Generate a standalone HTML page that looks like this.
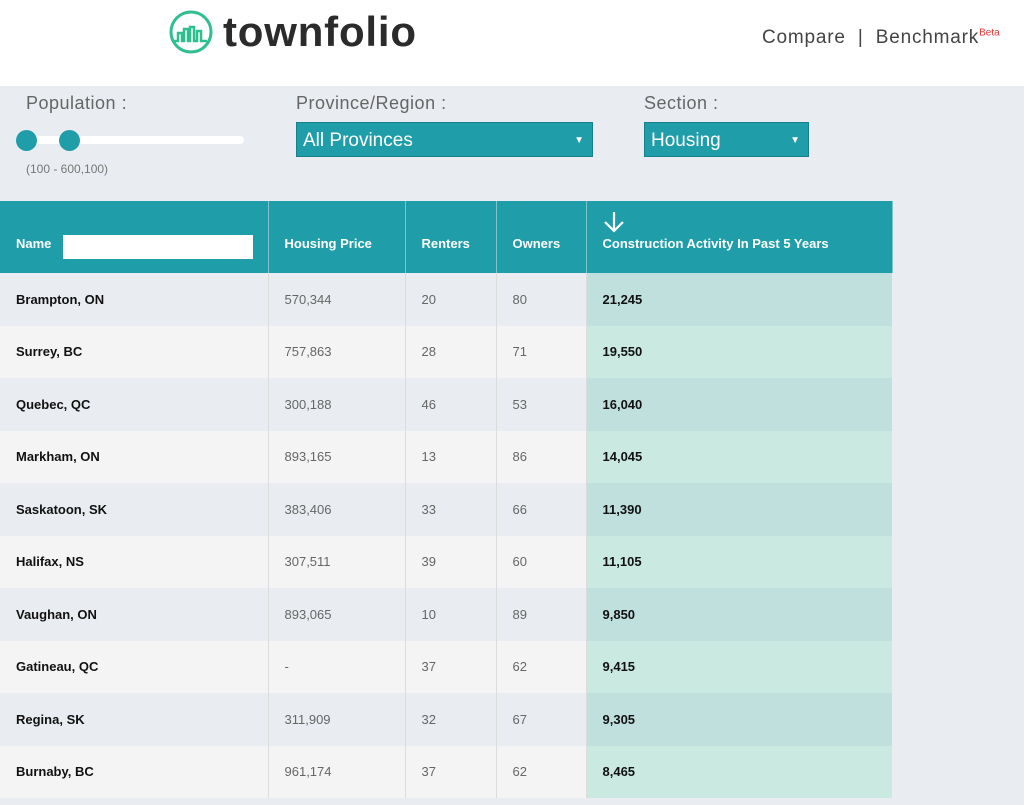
<!DOCTYPE html>
<html><head><style>
body{margin:0;width:1024px;height:805px;background:#e9ecf0;font-family:"Liberation Sans",sans-serif;position:relative;overflow:hidden}
.top{position:absolute;left:0;top:0;width:1024px;height:86px;background:#fff}
.logo{position:absolute;left:223px;top:8px;font-size:42px;color:#2b2b2b;letter-spacing:0.8px;font-weight:bold;-webkit-text-stroke:0}
.nav{position:absolute;left:762px;top:27px;font-size:19px;color:#444;letter-spacing:0.8px}
.nav sup{color:#e33;font-size:10px;letter-spacing:0}
.lbl{position:absolute;top:93px;font-size:18px;color:#666;letter-spacing:0.5px}
.sel{position:absolute;top:122px;height:35px;background:#1f9eaa;color:#fff;font-size:19px;line-height:35px;padding-left:6px;box-sizing:border-box;border:1px solid #17808a}
.sel span{position:absolute;right:8px;font-size:10px}
table{position:absolute;left:0;top:201px;border-collapse:collapse;width:892px;table-layout:fixed}
th{background:#1f9eaa;color:#fff;font-size:13px;text-align:left;height:72px;padding:12px 0 0 16px;border-right:1px solid #7cc5cc;font-weight:bold;box-sizing:border-box}
td{height:52.5px;padding:0 0 0 16px;font-size:13px;color:#666;border-right:1px solid #dcdcdc;box-sizing:border-box}
td:first-child{font-weight:bold;color:#111}
td:last-child{font-weight:bold;color:#111;border-right:none}
tr.a td{background:#e9ecf0} tr.b td{background:#f4f4f4}
tr.a td:last-child{background:#c0e0de} tr.b td:last-child{background:#c9e9e1}
</style></head><body>
<div class="top">
<svg style="position:absolute;left:168px;top:9px" width="46" height="46" viewBox="0 0 46 46"><circle cx="23" cy="23" r="20" fill="none" stroke="#2fbf8f" stroke-width="3"/><path d="M6 32 h4 v-8 h4 v8 h2 v-12 h4 v12 h2 v-14 h4 v14 h3 v-10 h4 v10 h6" fill="none" stroke="#2fbf8f" stroke-width="2.5"/></svg>
<div class="logo">townfolio</div>
<div class="nav">Compare &nbsp;|&nbsp; Benchmark<sup>Beta</sup></div>
</div>
<div class="lbl" style="left:26px">Population :</div>
<div style="position:absolute;left:16px;top:136px;width:228px;height:8px;background:#fff;border-radius:4px"></div>
<div style="position:absolute;left:16px;top:130px;width:21px;height:21px;border-radius:50%;background:#1f9eaa"></div>
<div style="position:absolute;left:59px;top:130px;width:21px;height:21px;border-radius:50%;background:#1f9eaa"></div>
<div style="position:absolute;left:26px;top:162px;font-size:12px;color:#777">(100 - 600,100)</div>
<div class="lbl" style="left:296px">Province/Region :</div>
<div class="sel" style="left:296px;width:297px">All Provinces<span>▼</span></div>
<div class="lbl" style="left:644px">Section :</div>
<div class="sel" style="left:644px;width:165px">Housing<span>▼</span></div>
<div style="position:absolute;left:63px;top:235px;width:190px;height:24px;background:#fff;z-index:2"></div>
<table>
<colgroup><col style="width:268px"><col style="width:137px"><col style="width:91px"><col style="width:90px"><col style="width:306px"></colgroup>
<tr><th>Name</th><th>Housing Price</th><th>Renters</th><th>Owners</th><th style="position:relative">Construction Activity In Past 5 Years<svg style="position:absolute;left:16px;top:10px" width="22" height="22" viewBox="0 0 22 22"><path d="M11 1 V20 M2 11 L11 20 L20 11" fill="none" stroke="#fff" stroke-width="2.2"/></svg></th></tr>
<tr class="a"><td>Brampton, ON</td><td>570,344</td><td>20</td><td>80</td><td>21,245</td></tr>
<tr class="b"><td>Surrey, BC</td><td>757,863</td><td>28</td><td>71</td><td>19,550</td></tr>
<tr class="a"><td>Quebec, QC</td><td>300,188</td><td>46</td><td>53</td><td>16,040</td></tr>
<tr class="b"><td>Markham, ON</td><td>893,165</td><td>13</td><td>86</td><td>14,045</td></tr>
<tr class="a"><td>Saskatoon, SK</td><td>383,406</td><td>33</td><td>66</td><td>11,390</td></tr>
<tr class="b"><td>Halifax, NS</td><td>307,511</td><td>39</td><td>60</td><td>11,105</td></tr>
<tr class="a"><td>Vaughan, ON</td><td>893,065</td><td>10</td><td>89</td><td>9,850</td></tr>
<tr class="b"><td>Gatineau, QC</td><td>-</td><td>37</td><td>62</td><td>9,415</td></tr>
<tr class="a"><td>Regina, SK</td><td>311,909</td><td>32</td><td>67</td><td>9,305</td></tr>
<tr class="b"><td>Burnaby, BC</td><td>961,174</td><td>37</td><td>62</td><td>8,465</td></tr>
</table>
</body></html>
